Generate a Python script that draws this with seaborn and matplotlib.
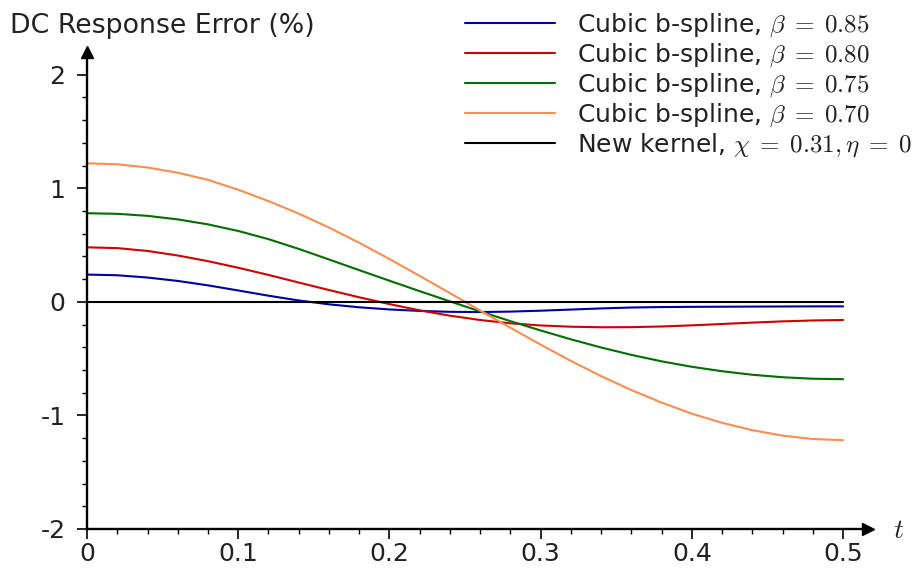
import numpy as np
import pandas as pd
import matplotlib
matplotlib.use('Agg')
import matplotlib.pyplot as plt
import seaborn as sns

sns.set_style('ticks')
plt.rcParams['font.family'] = ['DejaVu Sans']
plt.rcParams['mathtext.fontset'] = 'cm'
plt.rcParams['axes.unicode_minus'] = False

# valores, t cada 0.02
t = [0.00, 0.02, 0.04, 0.06, 0.08, 0.10, 0.12, 0.14, 0.16, 0.18, 0.20, 0.22, 0.24,
     0.26, 0.28, 0.30, 0.32, 0.34, 0.36, 0.38, 0.40, 0.42, 0.44, 0.46, 0.48, 0.50]

beta_085 = [0.240, 0.234, 0.214, 0.184, 0.145, 0.100, 0.054, 0.012, -0.022, -0.048, -0.067, -0.080, -0.088,
            -0.090, -0.086, -0.078, -0.068, -0.058, -0.050, -0.046, -0.044, -0.043, -0.042, -0.041, -0.040, -0.040]
beta_080 = [0.480, 0.473, 0.448, 0.408, 0.358, 0.300, 0.237, 0.170, 0.104, 0.040, -0.020, -0.075, -0.122,
            -0.160, -0.189, -0.208, -0.219, -0.224, -0.223, -0.217, -0.207, -0.195, -0.183, -0.172, -0.164, -0.160]
beta_075 = [0.780, 0.775, 0.757, 0.726, 0.682, 0.624, 0.552, 0.466, 0.373, 0.279, 0.186, 0.094, 0.004,
            -0.084, -0.170, -0.252, -0.330, -0.402, -0.467, -0.524, -0.572, -0.611, -0.642, -0.664, -0.677, -0.681]
beta_070 = [1.220, 1.211, 1.183, 1.137, 1.074, 0.987, 0.887, 0.777, 0.654, 0.520, 0.377, 0.228, 0.077,
            -0.077, -0.228, -0.377, -0.520, -0.654, -0.777, -0.887, -0.985, -1.065, -1.130, -1.178, -1.208, -1.218]
nuevo = [0.0] * len(t)

etiquetas = [r'Cubic b-spline, $\beta \;=\; 0.85$',
             r'Cubic b-spline, $\beta \;=\; 0.80$',
             r'Cubic b-spline, $\beta \;=\; 0.75$',
             r'Cubic b-spline, $\beta \;=\; 0.70$',
             r'New kernel, $\chi \;=\; 0.31, \eta \;=\; 0$']
colores = ['#0000a0', '#d00000', '#006e00', '#ff8c50', '#000000']
series = [beta_085, beta_080, beta_075, beta_070, nuevo]

df = pd.concat([pd.DataFrame({'t': t, 'error': s, 'curva': e})
                for s, e in zip(series, etiquetas)], ignore_index=True)

fig = plt.figure(figsize=(9.24, 5.82), dpi=100)
ax = fig.add_axes([0.0942, 0.0911, 0.8452, 0.8196])

sns.lineplot(data=df, x='t', y='error', hue='curva', palette=dict(zip(etiquetas, colores)),
             hue_order=etiquetas, linewidth=1.5, ax=ax, legend=False)

ax.set_xlim(0, 0.5165)
ax.set_ylim(-2, 2.2)
sns.despine(ax=ax)
for s in ['left', 'bottom']:
    ax.spines[s].set_linewidth(1.7)
    ax.spines[s].set_color('black')

# flechas de los ejes
ax.plot(1, 0, '>k', transform=ax.transAxes, clip_on=False, markersize=9)
ax.plot(0, 1, '^k', transform=ax.transAxes, clip_on=False, markersize=9)

ax.set_xticks([0, 0.1, 0.2, 0.3, 0.4, 0.5])
ax.set_xticklabels(['0', '0.1', '0.2', '0.3', '0.4', '0.5'])
ax.set_xticks(np.arange(0, 0.501, 0.02), minor=True)
ax.set_yticks([-2, -1, 0, 1, 2])
ax.set_yticklabels(['-2', '-1', '0', '1', '2'])
ax.set_yticks(np.arange(-2, 2.01, 0.2), minor=True)
ax.tick_params(which='major', direction='out', length=7.5, width=1.2, color='black', labelsize=18)
ax.tick_params(which='minor', direction='out', length=3.8, width=1.0, color='black')
ax.tick_params(axis='x', which='major', pad=2)
ax.tick_params(axis='y', which='major', pad=8)
for lab in ax.get_xticklabels() + ax.get_yticklabels():
    lab.set_color('#222222')

ax.set_xlabel('')
ax.set_ylabel('')
fig.text(10 / 924, 1 - 33 / 582, 'DC Response Error (%)', fontsize=19.3, color='#222222', va='baseline')
fig.text(899 / 924, 1 - 530 / 582, r'$t$', fontsize=20, va='center', ha='center')

handles = [plt.Line2D([], [], color=c, linewidth=1.5) for c in colores]
leg = fig.legend(handles, etiquetas, loc='upper left', bbox_to_anchor=(462 / 924, 0.985),
                 frameon=False, fontsize=18, handlelength=3.6, handletextpad=0.9,
                 labelspacing=0.09, borderaxespad=0.0, borderpad=0.1)
for txt in leg.get_texts():
    txt.set_color('#222222')

fig.savefig('out.png', dpi=100)
